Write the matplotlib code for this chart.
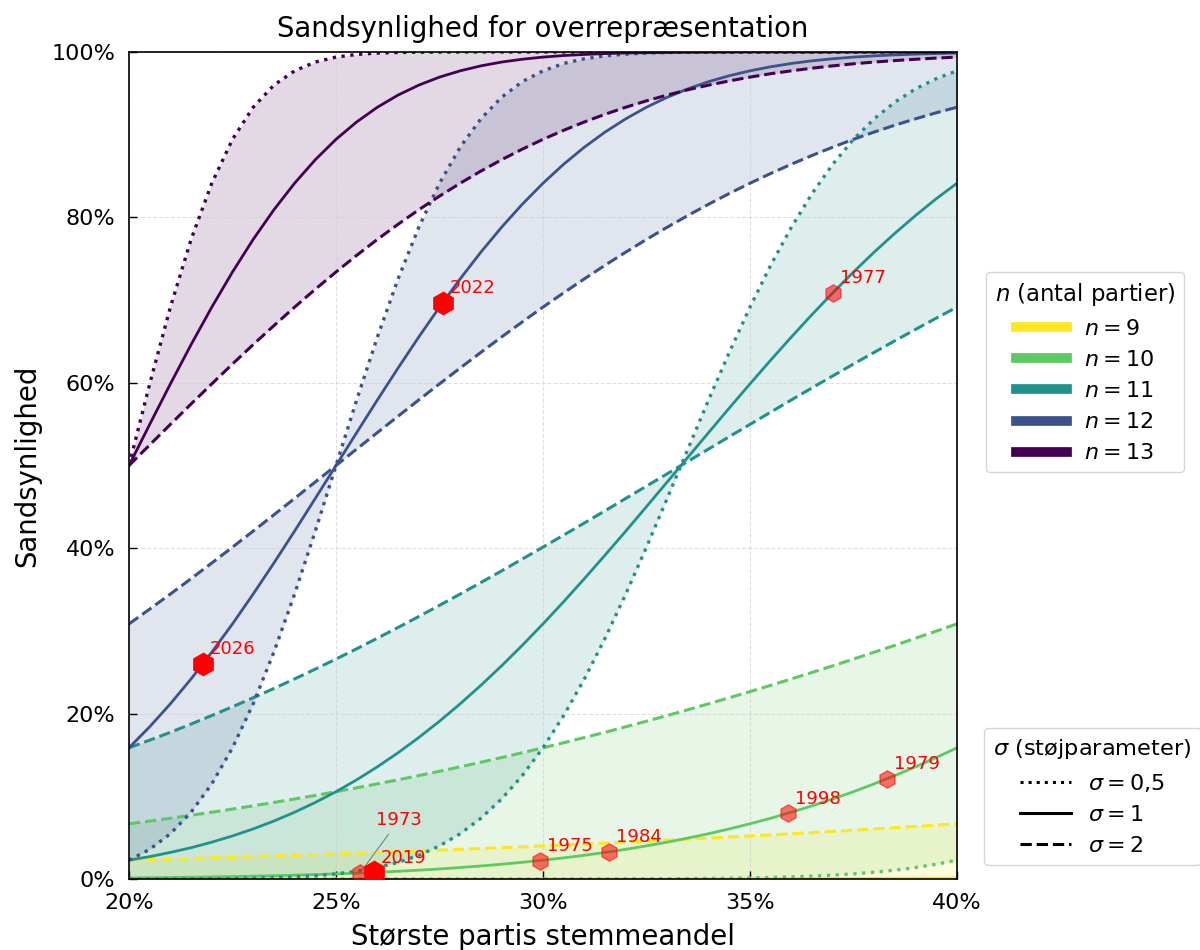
import matplotlib
matplotlib.use("Agg")
from matplotlib import pyplot as plt
from matplotlib.lines import Line2D
from matplotlib.ticker import PercentFormatter, MultipleLocator

# largest party's vote share (fraction), sampled every half percentage point
share = [0.200, 0.205, 0.210, 0.215, 0.220, 0.225, 0.230, 0.235, 0.240, 0.245,
         0.250, 0.255, 0.260, 0.265, 0.270, 0.275, 0.280, 0.285, 0.290, 0.295,
         0.300, 0.305, 0.310, 0.315, 0.320, 0.325, 0.330, 0.335, 0.340, 0.345,
         0.350, 0.355, 0.360, 0.365, 0.370, 0.375, 0.380, 0.385, 0.390, 0.395,
         0.400]

# probability curves, per n and sigma
p9_s05 = [0.0] * 41
p9_s1 = [0.0000, 0.0000, 0.0000, 0.0000, 0.0000, 0.0000, 0.0000, 0.0000, 0.0000, 0.0001,
         0.0001, 0.0001, 0.0001, 0.0001, 0.0001, 0.0002, 0.0002, 0.0002, 0.0002, 0.0002,
         0.0002, 0.0003, 0.0003, 0.0003, 0.0003, 0.0004, 0.0004, 0.0005, 0.0005, 0.0005,
         0.0006, 0.0006, 0.0007, 0.0008, 0.0008, 0.0009, 0.0010, 0.0011, 0.0012, 0.0012,
         0.0013]
p9_s2 = [0.0228, 0.0234, 0.0241, 0.0248, 0.0256, 0.0263, 0.0271, 0.0279, 0.0287, 0.0295,
         0.0304, 0.0313, 0.0322, 0.0331, 0.0340, 0.0350, 0.0359, 0.0369, 0.0379, 0.0390,
         0.0401, 0.0412, 0.0423, 0.0434, 0.0446, 0.0457, 0.0470, 0.0482, 0.0495, 0.0508,
         0.0521, 0.0534, 0.0548, 0.0562, 0.0576, 0.0591, 0.0606, 0.0621, 0.0636, 0.0652,
         0.0668]

p10_s05 = [0.0000, 0.0000, 0.0000, 0.0000, 0.0000, 0.0000, 0.0000, 0.0000, 0.0000, 0.0000,
           0.0000, 0.0000, 0.0000, 0.0000, 0.0000, 0.0000, 0.0000, 0.0000, 0.0000, 0.0000,
           0.0000, 0.0000, 0.0001, 0.0001, 0.0002, 0.0002, 0.0003, 0.0005, 0.0007, 0.0010,
           0.0013, 0.0019, 0.0026, 0.0035, 0.0047, 0.0062, 0.0082, 0.0107, 0.0139, 0.0179,
           0.0228]
p10_s1 = [0.0013, 0.0016, 0.0019, 0.0022, 0.0026, 0.0030, 0.0035, 0.0040, 0.0047, 0.0054,
          0.0062, 0.0071, 0.0082, 0.0094, 0.0107, 0.0122, 0.0139, 0.0158, 0.0179, 0.0202,
          0.0228, 0.0256, 0.0287, 0.0322, 0.0359, 0.0401, 0.0446, 0.0495, 0.0548, 0.0606,
          0.0668, 0.0735, 0.0808, 0.0885, 0.0968, 0.1056, 0.1151, 0.1251, 0.1357, 0.1469,
          0.1587]
p10_s2 = [0.0668, 0.0701, 0.0735, 0.0771, 0.0808, 0.0846, 0.0885, 0.0926, 0.0968, 0.1011,
          0.1056, 0.1103, 0.1151, 0.1200, 0.1251, 0.1303, 0.1357, 0.1412, 0.1469, 0.1527,
          0.1587, 0.1648, 0.1711, 0.1774, 0.1841, 0.1908, 0.1977, 0.2047, 0.2119, 0.2192,
          0.2266, 0.2342, 0.2420, 0.2498, 0.2578, 0.2660, 0.2743, 0.2826, 0.2912, 0.2998,
          0.3085]

p11_s05 = [0.0000, 0.0001, 0.0001, 0.0002, 0.0003, 0.0006, 0.0010, 0.0016, 0.0026, 0.0040,
           0.0062, 0.0094, 0.0139, 0.0202, 0.0287, 0.0401, 0.0548, 0.0735, 0.0968, 0.1251,
           0.1587, 0.1977, 0.2420, 0.2912, 0.3446, 0.4013, 0.4602, 0.5199, 0.5793, 0.6368,
           0.6915, 0.7422, 0.7881, 0.8289, 0.8643, 0.8944, 0.9192, 0.9394, 0.9554, 0.9678,
           0.9772]
p11_s1 = [0.0228, 0.0271, 0.0322, 0.0379, 0.0446, 0.0521, 0.0606, 0.0701, 0.0808, 0.0926,
          0.1056, 0.1200, 0.1357, 0.1527, 0.1711, 0.1908, 0.2119, 0.2342, 0.2578, 0.2826,
          0.3085, 0.3354, 0.3632, 0.3917, 0.4207, 0.4503, 0.4801, 0.5100, 0.5398, 0.5695,
          0.5987, 0.6274, 0.6554, 0.6826, 0.7088, 0.7340, 0.7580, 0.7808, 0.8023, 0.8226,
          0.8413]
p11_s2 = [0.1587, 0.1679, 0.1774, 0.1874, 0.1977, 0.2083, 0.2192, 0.2304, 0.2420, 0.2538,
          0.2660, 0.2784, 0.2912, 0.3042, 0.3174, 0.3309, 0.3446, 0.3585, 0.3726, 0.3869,
          0.4013, 0.4159, 0.4305, 0.4453, 0.4602, 0.4751, 0.4900, 0.5050, 0.5199, 0.5349,
          0.5497, 0.5645, 0.5793, 0.5939, 0.6083, 0.6227, 0.6368, 0.6508, 0.6646, 0.6782,
          0.6915]

p12_s05 = [0.0228, 0.0359, 0.0548, 0.0808, 0.1151, 0.1587, 0.2119, 0.2743, 0.3446, 0.4207,
           0.5000, 0.5793, 0.6554, 0.7257, 0.7881, 0.8413, 0.8849, 0.9192, 0.9452, 0.9641,
           0.9772, 0.9861, 0.9918, 0.9953, 0.9974, 0.9987, 0.9993, 0.9997, 0.9998, 0.9999,
           1.0, 1.0, 1.0, 1.0, 1.0, 1.0, 1.0, 1.0, 1.0, 1.0,
           1.0]
p12_s1 = [0.1587, 0.1841, 0.2119, 0.2420, 0.2743, 0.3085, 0.3446, 0.3821, 0.4207, 0.4602,
          0.5000, 0.5398, 0.5793, 0.6179, 0.6554, 0.6915, 0.7257, 0.7580, 0.7881, 0.8159,
          0.8413, 0.8643, 0.8849, 0.9032, 0.9192, 0.9332, 0.9452, 0.9554, 0.9641, 0.9713,
          0.9772, 0.9821, 0.9861, 0.9893, 0.9918, 0.9938, 0.9953, 0.9965, 0.9974, 0.9981,
          0.9987]
p12_s2 = [0.3085, 0.3264, 0.3446, 0.3632, 0.3821, 0.4013, 0.4207, 0.4404, 0.4602, 0.4801,
          0.5000, 0.5199, 0.5398, 0.5596, 0.5793, 0.5987, 0.6179, 0.6368, 0.6554, 0.6736,
          0.6915, 0.7088, 0.7257, 0.7422, 0.7580, 0.7734, 0.7881, 0.8023, 0.8159, 0.8289,
          0.8413, 0.8531, 0.8643, 0.8749, 0.8849, 0.8944, 0.9032, 0.9115, 0.9192, 0.9265,
          0.9332]

p13_s05 = [0.5000, 0.5987, 0.6915, 0.7734, 0.8413, 0.8944, 0.9332, 0.9599, 0.9772, 0.9878,
           0.9938, 0.9970, 0.9987, 0.9994, 0.9998, 0.9999, 1.0, 1.0, 1.0, 1.0,
           1.0, 1.0, 1.0, 1.0, 1.0, 1.0, 1.0, 1.0, 1.0, 1.0,
           1.0, 1.0, 1.0, 1.0, 1.0, 1.0, 1.0, 1.0, 1.0, 1.0,
           1.0]
p13_s1 = [0.5000, 0.5497, 0.5987, 0.6462, 0.6915, 0.7340, 0.7734, 0.8092, 0.8413, 0.8697,
          0.8944, 0.9154, 0.9332, 0.9479, 0.9599, 0.9696, 0.9772, 0.9832, 0.9878, 0.9912,
          0.9938, 0.9957, 0.9970, 0.9980, 0.9987, 0.9991, 0.9994, 0.9996, 0.9998, 0.9999,
          1.0, 1.0, 1.0, 1.0, 1.0, 1.0, 1.0, 1.0, 1.0, 1.0,
          1.0]
p13_s2 = [0.5000, 0.5249, 0.5497, 0.5744, 0.5987, 0.6227, 0.6462, 0.6691, 0.6915, 0.7131,
          0.7340, 0.7541, 0.7734, 0.7917, 0.8092, 0.8257, 0.8413, 0.8560, 0.8697, 0.8825,
          0.8944, 0.9053, 0.9154, 0.9247, 0.9332, 0.9409, 0.9479, 0.9543, 0.9599, 0.9650,
          0.9696, 0.9737, 0.9772, 0.9804, 0.9832, 0.9857, 0.9878, 0.9896, 0.9912, 0.9926,
          0.9938]

n_values = [9, 10, 11, 12, 13]
n_colors = ['#fde725', '#5ec962', '#21918c', '#3b528b', '#440154']
curves = {
    9: (p9_s05, p9_s1, p9_s2),
    10: (p10_s05, p10_s1, p10_s2),
    11: (p11_s05, p11_s1, p11_s2),
    12: (p12_s05, p12_s1, p12_s2),
    13: (p13_s05, p13_s1, p13_s2),
}

# elections
years = ['2026', '2022', '2019', '1973', '1975', '1984', '1998', '1977', '1979']
year_share = [0.2179, 0.2758, 0.2592, 0.2558, 0.2993, 0.3159, 0.3592, 0.3700, 0.3831]
year_prob = [0.2600, 0.6970, 0.0080, 0.0073, 0.0224, 0.0330, 0.0796, 0.7090, 0.1210]
highlight = ['2026', '2022', '2019']

fig, ax = plt.subplots(figsize=(12, 9.5), dpi=100)
fig.subplots_adjust(left=0.1075, right=0.7975, top=0.9453, bottom=0.0747)

for n, col in zip(n_values, n_colors):
    lo, mid, hi = curves[n]
    ax.fill_between(share, lo, hi, color=col, alpha=0.15, lw=0)
for n, col in zip(n_values, n_colors):
    lo, mid, hi = curves[n]
    ax.plot(share, lo, color=col, ls=':', lw=2.4)
    ax.plot(share, mid, color=col, ls='-', lw=2.0)
    ax.plot(share, hi, color=col, ls='--', lw=2.2)

for yr, sx, sy in zip(years, year_share, year_prob):
    if yr in highlight:
        ax.plot(sx, sy, marker='h', ms=16, color='red', ls='none', zorder=6)
    else:
        ax.plot(sx, sy, marker='h', ms=12.5, color='red', alpha=0.55, ls='none', zorder=5)
    if yr == '1973':
        ax.annotate(yr, (sx, sy), xytext=(28, 38), textcoords='offset points',
                    ha='center', va='center', color='red', fontsize=13,
                    arrowprops=dict(arrowstyle='-', color='gray', lw=0.8))
    else:
        ax.annotate(yr, (sx, sy), xytext=(5, 4), textcoords='offset points',
                    ha='left', va='bottom', color='red', fontsize=13)

ax.set_xlim(0.20, 0.40)
ax.set_ylim(0, 1)
ax.xaxis.set_major_locator(MultipleLocator(0.05))
ax.yaxis.set_major_locator(MultipleLocator(0.2))
ax.xaxis.set_major_formatter(PercentFormatter(1.0, decimals=0))
ax.yaxis.set_major_formatter(PercentFormatter(1.0, decimals=0))
ax.tick_params(direction='in', length=6, width=1, labelsize=16, pad=10)
for sp in ax.spines.values():
    sp.set_linewidth(1.2)
ax.grid(True, ls='--', lw=0.8, color='#cccccc', alpha=0.6)

ax.set_title('Sandsynlighed for overrepræsentation', fontsize=19.8, pad=11)
ax.set_xlabel('Største partis stemmeandel', fontsize=19.8, labelpad=7)
ax.set_ylabel('Sandsynlighed', fontsize=19.8, labelpad=7)

n_handles = [Line2D([], [], color=c, lw=7) for c in n_colors]
n_labels = [r'$n = %d$' % n for n in n_values]
leg1 = ax.legend(n_handles, n_labels, title=r'$n$ (antal partier)', loc='upper left',
                 bbox_to_anchor=(1.035, 0.734), borderaxespad=0, fontsize=16,
                 title_fontsize=16.4, handlelength=2.3)
ax.add_artist(leg1)
s_handles = [Line2D([], [], color='black', ls=':', lw=2.2),
             Line2D([], [], color='black', ls='-', lw=2.2),
             Line2D([], [], color='black', ls='--', lw=2.2)]
s_labels = [r'$\sigma = 0{,}5$', r'$\sigma = 1$', r'$\sigma = 2$']
ax.legend(s_handles, s_labels, title=r'$\sigma$ (støjparameter)', loc='lower left',
          bbox_to_anchor=(1.033, 0.017), borderaxespad=0, fontsize=16,
          title_fontsize=16.2, handlelength=2.3)

plt.savefig('out.png', dpi=100)
